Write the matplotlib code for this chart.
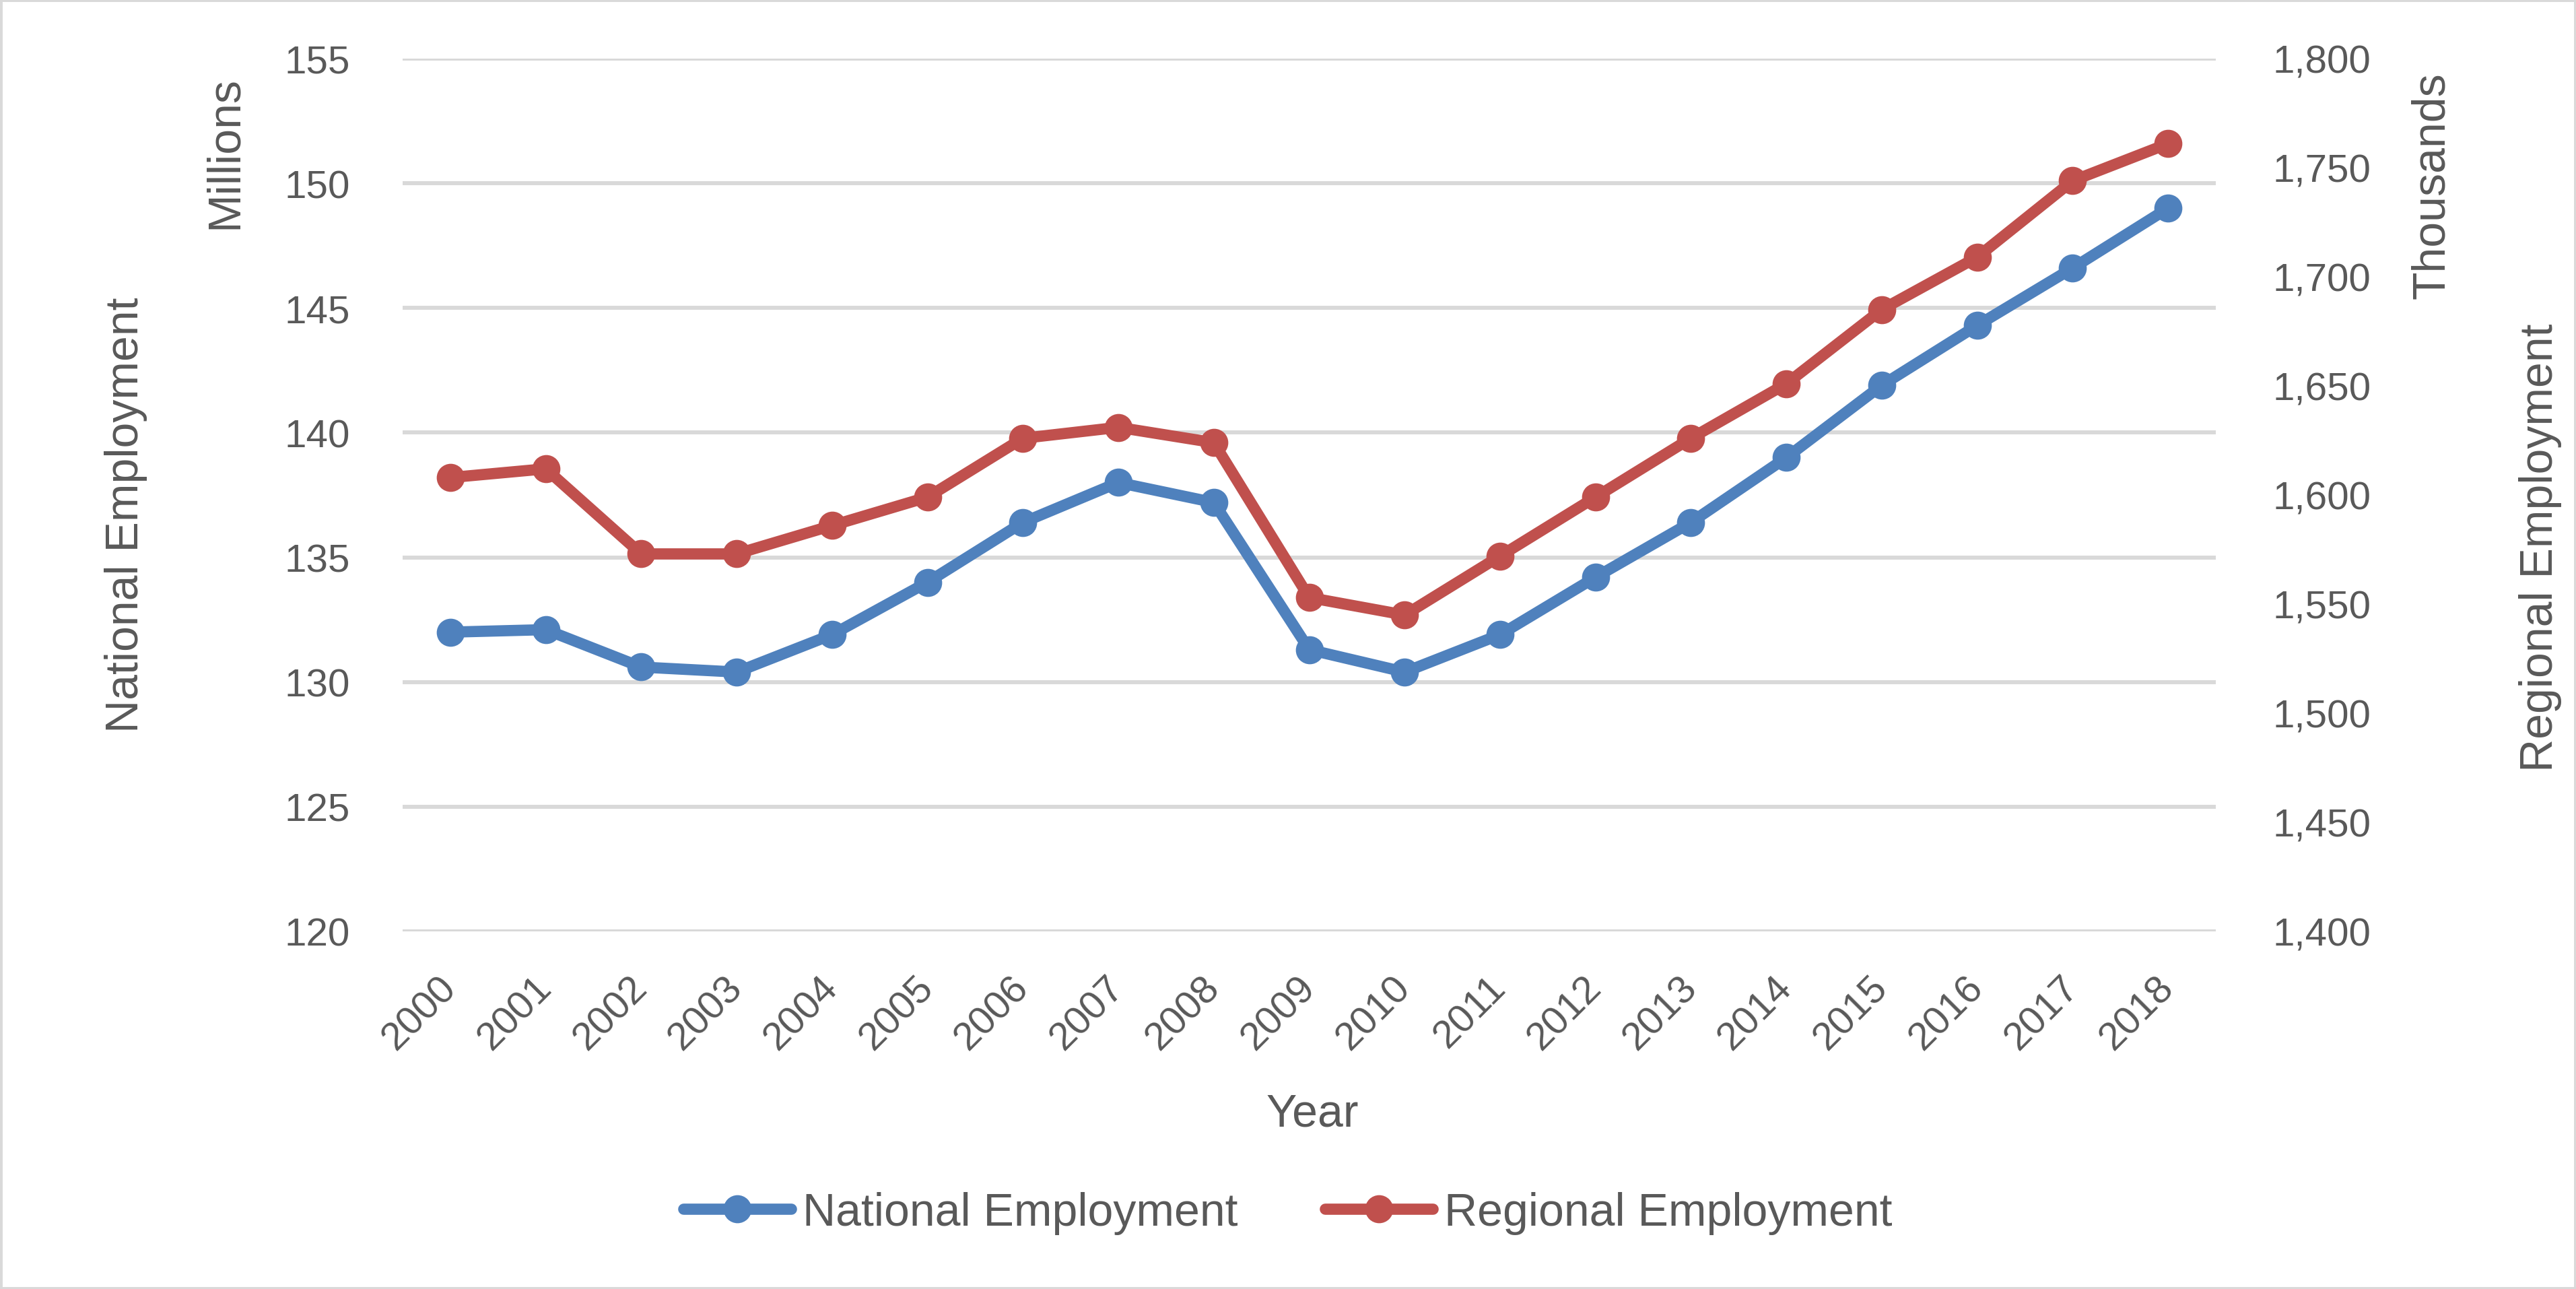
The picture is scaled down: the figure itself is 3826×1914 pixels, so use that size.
import matplotlib
matplotlib.use("Agg")
import matplotlib.pyplot as plt
from matplotlib.patches import Rectangle
from matplotlib.ticker import FuncFormatter

years = [str(y) for y in range(2000, 2019)]
national = [132.0, 132.1, 130.6, 130.4, 131.9, 134.0, 136.4, 138.0, 137.2, 131.3,
            130.4, 131.9, 134.2, 136.4, 139.0, 141.9, 144.3, 146.6, 149.0]
regional = [1608, 1612, 1573, 1573, 1586, 1599, 1626, 1631, 1624, 1553,
            1545, 1572, 1599, 1626, 1651, 1685, 1709, 1744, 1761]
left_ticks = [120, 125, 130, 135, 140, 145, 150, 155]
right_ticks = [1400, 1450, 1500, 1550, 1600, 1650, 1700, 1750, 1800]

blue = "#4F81BD"
red = "#C0504D"
grey = "#595959"
grid = "#D9D9D9"

plt.rcParams["font.family"] = ["Liberation Sans", "DejaVu Sans"]

fig = plt.figure(figsize=(38.26, 19.15), dpi=100)
ax = fig.add_axes([598/3826, 1-1384/1915, (3291-598)/3826, (1384-88)/1915])
ax2 = ax.twinx()

x = list(range(len(years)))
l1, = ax.plot(x, national, color=blue, lw=12, marker="o", ms=29,
              solid_capstyle="round", label="National Employment", zorder=3)
l2, = ax2.plot(x, regional, color=red, lw=12, marker="o", ms=29,
               solid_capstyle="round", label="Regional Employment", zorder=3)

ax.set_xlim(-0.5, len(years) - 0.5)
ax.set_ylim(120, 155)
ax2.set_ylim(1400, 1800)
ax.set_yticks(left_ticks)
ax2.set_yticks(right_ticks)
ax2.yaxis.set_major_formatter(FuncFormatter(lambda v, p: f"{int(v):,}"))
ax.set_xticks(x)
ax.set_xticklabels(years, rotation=45, ha="right", va="center",
                   rotation_mode="anchor")

ax.grid(axis="y", color=grid, lw=4.3, zorder=0)
ax.set_axisbelow(True)
for a in (ax, ax2):
    for s in a.spines.values():
        s.set_visible(False)
ax.tick_params(axis="y", length=0, pad=56, labelsize=42, labelcolor=grey)
ax.tick_params(axis="x", length=0, pad=54, labelsize=42, labelcolor=grey)
ax2.tick_params(axis="y", length=0, pad=61, labelsize=42, labelcolor=grey)

# axis titles placed by hand like the excel layout
fs = 49
fig.text(187/3826, 1-765/1915, "National Employment", rotation=90,
         ha="center", va="center", fontsize=fs, color=grey)
fig.text(334/3826, 1-227/1915, "Millions", rotation=90,
         ha="center", va="center", fontsize=fs, color=grey)
fig.text(3612/3826, 1-276/1915, "Thousands", rotation=90,
         ha="center", va="center", fontsize=fs, color=grey)
fig.text(3773/3826, 1-813/1915, "Regional Employment", rotation=90,
         ha="center", va="center", fontsize=fs, color=grey)
fig.text(1949/3826, 1-1655/1915, "Year", ha="center", va="center",
         fontsize=fs, color=grey)

leg = fig.legend(handles=[l1, l2], loc="center", bbox_to_anchor=(0.5, 1-1802/1915),
                 ncol=2, frameon=False, fontsize=fs, handlelength=2.35,
                 handletextpad=0.25, columnspacing=1.9)
for t in leg.get_texts():
    t.set_color(grey)

fig.patches.append(Rectangle((0, 0), 1, 1, transform=fig.transFigure, fill=False,
                             edgecolor=grid, lw=5))

fig.savefig("out.png", dpi=100)
